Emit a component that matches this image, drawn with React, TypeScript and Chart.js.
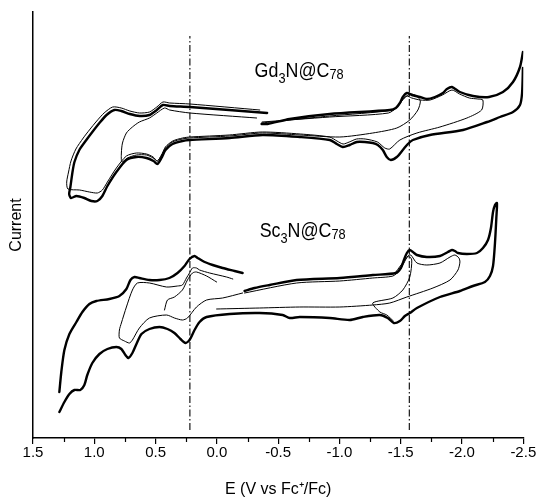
import React, { useEffect, useRef } from "react";
import { Chart, registerables } from "chart.js";

Chart.register(...registerables);

type Pt = [number, number];

// X axis (potential, V vs Fc+/Fc) — reversed axis
const xMin = -2.5;
const xMax = 1.5;
const xStep = 0.5;
const minorTicks = [1.25, 0.75, 0.25, -0.25, -0.75, -1.25, -1.75, -2.25];
const markerPotentials = [0.22, -1.57];
const markerSpan: Pt = [8, 402];
const yMin = 0;
const yMax = 426;

// Gd3N@C78 — outer (thick) scan
const gdOuterA: Pt[] = [
  [-0.41, 325], [-0.1, 328], [0.22, 331], [0.385, 332], [0.44, 333], [0.49, 328], [0.55, 323], [0.63, 322],
  [0.71, 324], [0.78, 327], [0.836, 328], [0.9, 323], [0.958, 315], [1.016, 306], [1.065, 298], [1.122, 288],
  [1.162, 276], [1.179, 265], [1.195, 251], [1.205, 244], [1.19, 240], [1.146, 242], [1.081, 240], [1.024, 237],
  [0.975, 237], [0.934, 242], [0.893, 252], [0.82, 266], [0.738, 278], [0.656, 281], [0.574, 280], [0.517, 277],
  [0.485, 274], [0.452, 280], [0.419, 288], [0.362, 294], [0.281, 297], [0.223, 298], [-0.104, 300], [-0.373, 303],
  [-0.676, 301], [-0.921, 298], [-0.978, 294], [-1.027, 291], [-1.084, 293], [-1.142, 296], [-1.207, 296],
  [-1.272, 295], [-1.313, 293], [-1.354, 288], [-1.386, 281], [-1.419, 278], [-1.468, 281], [-1.517, 288],
  [-1.558, 294], [-1.599, 298], [-1.738, 303], [-2.008, 308], [-2.205, 316], [-2.31, 321], [-2.416, 326],
  [-2.473, 333], [-2.49, 345], [-2.497, 370],
];
const gdOuterB: Pt[] = [
  [-2.497, 386], [-2.473, 371], [-2.416, 356], [-2.334, 346], [-2.22, 341], [-2.09, 342], [-1.983, 346],
  [-1.918, 351], [-1.877, 349], [-1.844, 345], [-1.779, 341], [-1.713, 339], [-1.656, 341], [-1.591, 343],
  [-1.55, 345], [-1.517, 341], [-1.493, 335], [-1.46, 330], [-1.411, 328], [-0.921, 324], [-0.594, 319],
  [-0.414, 314], [-0.365, 314],
];
// Gd3N@C78 — second (thin) scan
const gdCycle2: Pt[] = [
  [-0.37, 316], [-0.92, 321], [-1.4, 325], [-1.48, 332], [-1.52, 339], [-1.55, 342], [-1.59, 340], [-1.66, 338],
  [-1.74, 338], [-1.84, 343], [-1.918, 348], [-1.98, 344], [-2.06, 340], [-2.13, 339], [-2.17, 338], [-2.16, 328],
  [-2.04, 320], [-1.82, 311], [-1.632, 305], [-1.493, 298], [-1.41, 289], [-1.37, 290], [-1.31, 296], [-1.21, 299],
  [-1.14, 299], [-1.08, 296], [-1.03, 294], [-0.98, 297], [-0.92, 301], [-0.68, 304], [-0.37, 306], [-0.1, 303],
  [0.22, 301], [0.28, 300], [0.36, 297], [0.42, 291], [0.45, 283], [0.485, 277], [0.52, 281], [0.574, 284],
  [0.656, 285], [0.738, 282], [0.82, 270], [0.893, 256], [0.934, 248], [0.975, 245], [1.04, 246], [1.12, 248],
  [1.215, 249], [1.225, 256], [1.21, 266], [1.19, 277], [1.15, 289], [1.09, 300], [1.04, 308], [0.98, 317],
  [0.92, 325], [0.85, 331], [0.78, 330], [0.71, 327], [0.63, 325], [0.55, 326], [0.49, 331], [0.44, 336],
  [0.385, 335], [0.22, 334], [-0.35, 328],
];
// Gd3N@C78 — inner (thin) scan
const gdCycle3: Pt[] = [
  [-0.324, 320], [0.22, 325], [0.385, 328], [0.427, 330], [0.49, 325], [0.55, 320], [0.632, 316], [0.689, 311],
  [0.738, 305], [0.77, 295], [0.779, 285], [0.775, 276], [0.73, 280], [0.656, 283], [0.574, 283], [0.52, 280],
  [0.485, 277], [0.452, 283], [0.419, 290], [0.362, 296], [0.281, 299], [0.223, 300], [-0.104, 302], [-0.373, 305],
  [-0.676, 303], [-1.003, 301], [-1.272, 305], [-1.468, 310], [-1.574, 318], [-1.64, 328], [-1.66, 337],
  [-1.63, 342], [-1.58, 344], [-1.53, 340], [-1.49, 334], [-1.44, 328], [-0.92, 322], [-0.594, 318], [-0.365, 315],
];

// Sc3N@C78 — outer (thick) scan
const scOuterA: Pt[] = [
  [-0.21, 165], [-0.145, 167], [-0.047, 170], [0.034, 173], [0.1, 176], [0.157, 180], [0.182, 182], [0.223, 179],
  [0.264, 172], [0.321, 165], [0.387, 160], [0.468, 158], [0.55, 158], [0.632, 160], [0.672, 161], [0.705, 158],
  [0.738, 149], [0.795, 142], [0.877, 139], [0.983, 137], [1.04, 134], [1.097, 126], [1.146, 116], [1.203, 104],
  [1.244, 88], [1.269, 66], [1.285, 46],
];
const scOuterB: Pt[] = [
  [1.285, 26], [1.244, 36], [1.203, 44], [1.162, 48], [1.114, 48], [1.081, 53], [1.057, 63], [1.016, 75],
  [0.958, 84], [0.893, 89], [0.82, 91], [0.779, 89], [0.746, 83], [0.722, 80], [0.689, 85], [0.656, 94],
  [0.615, 104], [0.55, 109], [0.468, 111], [0.403, 109], [0.346, 105], [0.297, 99], [0.256, 95], [0.223, 98],
  [0.182, 108], [0.141, 116], [0.084, 121], [-0.104, 124], [-0.349, 125], [-0.537, 123], [-0.594, 120],
  [-0.676, 121], [-0.921, 120], [-1.084, 118], [-1.191, 121], [-1.329, 123], [-1.394, 120], [-1.444, 115],
  [-1.493, 117], [-1.534, 122], [-1.574, 125], [-1.632, 130], [-1.82, 141], [-1.983, 147], [-2.089, 152],
  [-2.187, 156], [-2.228, 162], [-2.253, 172], [-2.269, 195], [-2.28, 220], [-2.285, 235], [-2.269, 233],
  [-2.253, 226], [-2.236, 210], [-2.212, 198], [-2.171, 190], [-2.122, 185], [-2.04, 184], [-1.967, 185],
  [-1.942, 187], [-1.918, 188], [-1.885, 186], [-1.82, 182], [-1.713, 181], [-1.632, 183], [-1.599, 186],
  [-1.574, 188], [-1.55, 185], [-1.526, 178], [-1.501, 170], [-1.46, 165], [-1.272, 163], [-1.003, 160],
  [-0.651, 158], [-0.431, 153], [-0.308, 150], [-0.226, 147],
];
// Sc3N@C78 — thin scans
const scCycle2Right: Pt[] = [
  [-0.226, 145], [-0.651, 155], [-1.003, 157], [-1.272, 160], [-1.436, 162], [-1.493, 168], [-1.526, 175],
  [-1.558, 182], [-1.582, 183], [-1.632, 175], [-1.713, 173], [-1.82, 175], [-1.902, 181], [-1.942, 183],
  [-1.975, 180], [-1.983, 176], [-1.967, 168], [-1.902, 158], [-1.763, 150], [-1.55, 141], [-1.411, 135],
  [-1.272, 133], [-1.003, 131], [-0.676, 131], [-0.349, 130], [0.002, 129],
];
const scCycle3Right: Pt[] = [
  [-1.46, 166], [-1.534, 178], [-1.566, 182], [-1.59, 178], [-1.574, 161], [-1.517, 148], [-1.436, 140],
  [-1.272, 135], [-1.33, 126], [-1.386, 123], [-1.44, 117],
];
const scCycle2Left: Pt[] = [
  [-0.21, 145], [-0.047, 140], [0.084, 138], [0.166, 131], [0.24, 120], [0.281, 118], [0.346, 120], [0.411, 123],
  [0.55, 120], [0.632, 110], [0.689, 98], [0.713, 95], [0.754, 97], [0.795, 100], [0.795, 108], [0.779, 115],
  [0.738, 131], [0.689, 148], [0.648, 155], [0.55, 155], [0.411, 151], [0.321, 152], [0.281, 153], [0.248, 160],
  [0.223, 165], [0.199, 170], [0.166, 170], [0.141, 168], [0.059, 165], [-0.079, 161], [-0.13, 159],
];
const scCycle3Hook: Pt[] = [
  [0.002, 156], [0.084, 162], [0.166, 166], [0.199, 165], [0.24, 158], [0.281, 148], [0.346, 141], [0.403, 138],
  [0.427, 128],
];

// Compound labels: [text, subscript]
const gdLabelParts: [string, boolean][] = [["Gd", false], ["3", true], ["N@C", false], ["78", true]];
const scLabelParts: [string, boolean][] = [["Sc", false], ["3", true], ["N@C", false], ["78", true]];
const gdLabelAnchor: Pt = [-0.308, 361];
const scLabelAnchor: Pt = [-0.349, 201];

const FONT = '"Liberation Sans", Arial, Helvetica, sans-serif';

const toXY = (pts: Pt[]) => pts.map(([x, y]) => ({ x, y }));

function curve(pts: Pt[], width: number) {
  return {
    data: toXY(pts),
    showLine: true,
    borderColor: "#000",
    backgroundColor: "#000",
    borderWidth: width,
    pointRadius: 0,
    tension: 0.25,
    fill: false,
    borderJoinStyle: "round" as const,
    borderCapStyle: "round" as const,
  };
}

function drawFormula(ctx: CanvasRenderingContext2D, x: number, y: number, parts: [string, boolean][]) {
  ctx.save();
  ctx.translate(x, y);
  ctx.scale(0.85, 1);
  ctx.fillStyle = "#000";
  ctx.textBaseline = "alphabetic";
  ctx.textAlign = "left";
  let cx = 0;
  parts.forEach(([t, sub], i) => {
    ctx.font = sub ? `15px ${FONT}` : `21px ${FONT}`;
    const dy = sub ? (i === 1 ? 6 : 2) : 0;
    ctx.fillText(t, cx, dy);
    cx += ctx.measureText(t).width;
  });
  ctx.restore();
}

const extrasPlugin = {
  id: "cvExtras",
  afterDraw(chart: any) {
    const { ctx, chartArea, scales } = chart;
    const xs = scales.x;
    const ys = scales.y;
    ctx.save();
    ctx.strokeStyle = "#000";
    ctx.lineWidth = 1.2;
    minorTicks.forEach((v) => {
      const px = Math.round(xs.getPixelForValue(v)) + 0.5;
      ctx.beginPath();
      ctx.moveTo(px, chartArea.bottom);
      ctx.lineTo(px, chartArea.bottom + 4);
      ctx.stroke();
    });
    ctx.restore();
    drawFormula(ctx, xs.getPixelForValue(gdLabelAnchor[0]), ys.getPixelForValue(gdLabelAnchor[1]), gdLabelParts);
    drawFormula(ctx, xs.getPixelForValue(scLabelAnchor[0]), ys.getPixelForValue(scLabelAnchor[1]), scLabelParts);
  },
};

export default function App() {
  const ref = useRef<HTMLCanvasElement>(null);
  useEffect(() => {
    if (!ref.current) return;
    const markers = markerPotentials.map((e) => ({
      data: [{ x: e, y: markerSpan[0] }, { x: e, y: markerSpan[1] }],
      showLine: true,
      borderColor: "#000",
      borderWidth: 1.1,
      borderDash: [7, 2.5, 1.5, 2.5],
      pointRadius: 0,
      fill: false,
    }));
    const datasets: any[] = [
      ...markers,
      curve(gdCycle3, 1),
      curve(gdCycle2, 1),
      curve(gdOuterA, 2.4),
      curve(gdOuterB, 2.4),
      curve(scCycle2Right, 1),
      curve(scCycle3Right, 1),
      curve(scCycle2Left, 1),
      curve(scCycle3Hook, 1),
      curve(scOuterA, 2.4),
      curve(scOuterB, 2.4),
    ];
    const chart = new Chart(ref.current, {
      type: "scatter",
      data: { datasets },
      options: {
        animation: false,
        responsive: false,
        events: [],
        layout: { padding: { top: 12, right: 14.7, left: 0, bottom: 0 } },
        plugins: { legend: { display: false }, tooltip: { enabled: false } },
        scales: {
          x: {
            type: "linear",
            reverse: true,
            min: xMin,
            max: xMax,
            afterFit: (s: any) => {
              s.height = 64;
            },
            border: { display: true, color: "#000", width: 1.5 },
            grid: { display: true, drawOnChartArea: false, drawTicks: true, tickLength: 6, color: "#000", lineWidth: 1.2 },
            ticks: {
              stepSize: xStep,
              autoSkip: false,
              maxRotation: 0,
              color: "#000",
              padding: 0,
              font: { family: FONT, size: 15 },
              callback: (v: any) => Number(v).toFixed(1),
            },
            title: {
              display: true,
              text: "E (V vs Fc\u207A/Fc)",
              color: "#000",
              font: { family: FONT, size: 16 },
              padding: { top: 0, bottom: 3 },
            },
          },
          y: {
            type: "linear",
            min: yMin,
            max: yMax,
            afterFit: (s: any) => {
              s.width = 33;
            },
            border: { display: true, color: "#000", width: 1.5 },
            grid: { display: false },
            ticks: { display: false },
            title: {
              display: true,
              text: "Current",
              color: "#000",
              font: { family: FONT, size: 16 },
              padding: { top: 7, bottom: 0 },
            },
          },
        },
      },
      plugins: [extrasPlugin],
    });
    return () => chart.destroy();
  }, []);
  return (
    <div style={{ position: "absolute", left: 0, top: 0, width: 538, height: 502, background: "#fff" }}>
      <canvas ref={ref} width={538} height={502} style={{ display: "block" }} />
    </div>
  );
}
